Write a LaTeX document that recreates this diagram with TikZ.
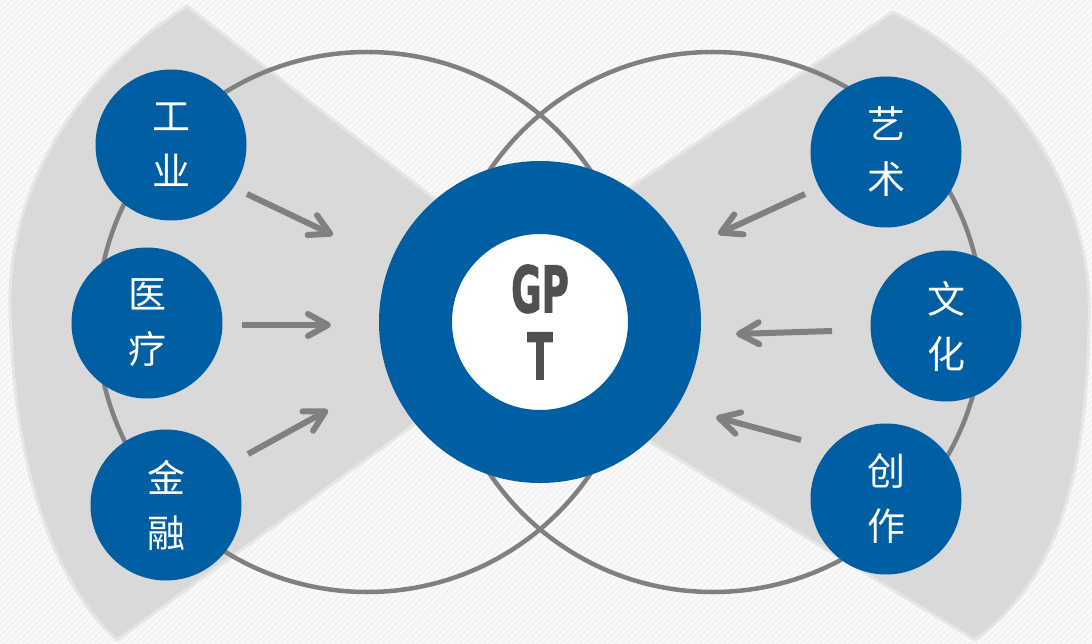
\documentclass[tikz,border=0pt]{standalone}
\usepackage{fontspec}
\newfontfamily\cjk{Noto Sans CJK SC}
\newfontfamily\gptfont{DejaVu Sans}[BoldFeatures={FakeBold=2}]
\usetikzlibrary{arrows.meta,patterns.meta}
\definecolor{nodeblue}{RGB}{0,94,162}
\definecolor{fangray}{RGB}{217,217,217}
\definecolor{fanrim}{RGB}{230,230,230}
\definecolor{bggray}{RGB}{243,243,243}
\definecolor{linegray}{RGB}{128,128,128}
\definecolor{textgray}{RGB}{80,80,80}
\tikzset{
  field/.style={circle, fill=nodeblue, minimum size=151pt, inner sep=0pt, text=white, align=center, font=\cjk\fontsize{38}{55}\selectfont},
  fan/.style={fill=fangray, draw=fanrim, line width=3pt, line join=round},
  orbit/.style={draw=linegray, line width=4.5pt},
  flow/.style={draw=linegray, line width=6pt, -{Straight Barb[length=20pt,width=22pt,round]}},
}

\begin{document}
\begin{tikzpicture}[x=1pt, y=-1pt]
		%%%%% START %%%%%
		
		\useasboundingbox (0,0) rectangle (1092,644);
		\fill[bggray] (0,0) rectangle (1092,644);
		\fill[pattern={Lines[angle=45, distance=4pt, line width=1.4pt]}, pattern color=white] (0,0) rectangle (1092,644);
		
		% two fans
		\draw[fan] (575,308) -- (187,6) .. controls (70,80) and (0,200) .. (11,330) .. controls (15,450) and (45,575) .. (117,640) -- cycle;
		\draw[fan] (440,314) -- (893,12) .. controls (1010,70) and (1095,190) .. (1089,325) .. controls (1086,460) and (1065,575) .. (975,640) -- cycle;
		
		% two rings
		\draw[orbit] (367,322) circle[radius=270pt];
		\draw[orbit] (713,322) circle[radius=270pt];
		
		% fields
		\node[field] (gongye) at (171,145) {工\\业};
		\node[field] (yiliao) at (147,323) {医\\疗};
		\node[field] (jinrong) at (166,505) {金\\融};
		\node[field] (yishu) at (886,152) {艺\\术};
		\node[field] (wenhua) at (946,326) {文\\化};
		\node[field] (chuangzuo) at (886,499) {创\\作};
		
		% arrows
		\coordinate (l1a) at (247,194);
		\coordinate (l1b) at (333,235);
		\coordinate (l2a) at (242,325);
		\coordinate (l2b) at (331,325);
		\coordinate (l3a) at (248,454);
		\coordinate (l3b) at (328,410);
		\coordinate (r1a) at (805,194);
		\coordinate (r1b) at (718,234);
		\coordinate (r2a) at (832,331);
		\coordinate (r2b) at (736,334);
		\coordinate (r3a) at (801,440);
		\coordinate (r3b) at (716,417);
		\draw[flow] (l1a) -- (l1b);
		\draw[flow] (l2a) -- (l2b);
		\draw[flow] (l3a) -- (l3b);
		\draw[flow] (r1a) -- (r1b);
		\draw[flow] (r2a) -- (r2b);
		\draw[flow] (r3a) -- (r3b);
		
		% centre
		\node[circle, draw=nodeblue, line width=73pt, fill=white, minimum size=249pt, inner sep=0pt, text=textgray, align=center, font=\gptfont\bfseries\fontsize{64}{67}\selectfont] (gpt) at (540,322) {\scalebox{0.58}[1]{GP}\\\scalebox{0.58}[1]{T}};
		
		%%%%% END %%%%%
\end{tikzpicture}
\end{document}
